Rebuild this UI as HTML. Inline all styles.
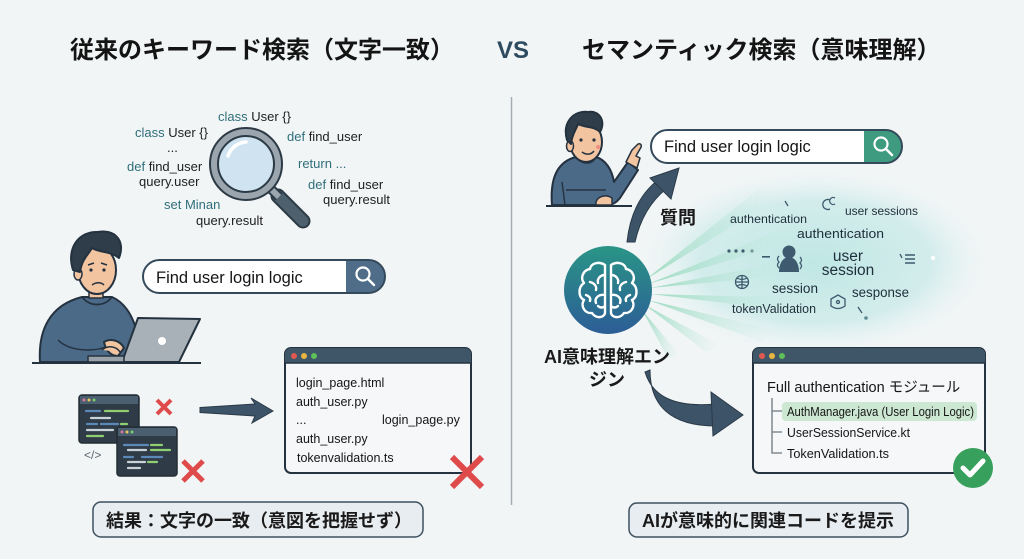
<!DOCTYPE html>
<html><head><meta charset="utf-8">
<style>
html,body{margin:0;padding:0;background:#f2f5f6;}
svg{display:block;}
text{font-family:"Liberation Sans","Noto Sans CJK JP",sans-serif;}
</style></head><body>
<svg width="1024" height="559" viewBox="0 0 1024 559" xmlns="http://www.w3.org/2000/svg">
<defs>
 <radialGradient id="cloud" cx="0.5" cy="0.5" r="0.5">
  <stop offset="0" stop-color="#bfe7e4" stop-opacity="1"/>
  <stop offset="0.65" stop-color="#cdebea" stop-opacity="0.85"/>
  <stop offset="1" stop-color="#e8f4f3" stop-opacity="0"/>
 </radialGradient>
 <linearGradient id="ray" x1="0" y1="0" x2="1" y2="0">
  <stop offset="0" stop-color="#93d8ba" stop-opacity="1"/>
  <stop offset="1" stop-color="#c9ece4" stop-opacity="0"/>
 </linearGradient>
 <linearGradient id="brain" x1="0" y1="0" x2="0" y2="1">
  <stop offset="0" stop-color="#2a9586"/>
  <stop offset="1" stop-color="#2c5d96"/>
 </linearGradient>
</defs>

<rect width="1024" height="559" fill="#f2f5f6"/>

<!-- Titles -->
<text x="70" y="58" font-size="24" font-weight="bold" fill="#141414">従来のキーワード検索（文字一致）</text>
<text x="497" y="58" font-size="24" font-weight="bold" fill="#2d4a5f">VS</text>
<text x="582" y="58" font-size="24" font-weight="bold" fill="#141414">セマンティック検索（意味理解）</text>

<!-- divider -->
<line x1="511.5" y1="97" x2="511.5" y2="505" stroke="#a5adb3" stroke-width="1.5"/>

<!-- ============ LEFT ============ -->
<g font-size="13" fill="#1e1e1e">
 <text x="218" y="121"><tspan fill="#2f6f7a">class</tspan> User {}</text>
 <text x="135" y="137"><tspan fill="#2f6f7a">class</tspan> User {}</text>
 <text x="167" y="152">...</text>
 <text x="127" y="171"><tspan fill="#2f6f7a">def</tspan> find_user</text>
 <text x="139" y="186">query.user</text>
 <text x="164" y="209" fill="#2f6f7a">set Minan</text>
 <text x="196" y="225">query.result</text>
 <text x="287" y="141"><tspan fill="#2f6f7a">def</tspan> find_user</text>
 <text x="298" y="168" fill="#2f6f7a">return ...</text>
 <text x="308" y="189"><tspan fill="#2f6f7a">def</tspan> find_user</text>
 <text x="323" y="204">query.result</text>
</g>

<!-- magnifier -->
<g>
 <line x1="278" y1="196" x2="303" y2="221" stroke="#2c3a46" stroke-width="15" stroke-linecap="round"/>
 <line x1="278" y1="196" x2="303" y2="221" stroke="#4d606e" stroke-width="11" stroke-linecap="round"/>
 <line x1="268" y1="186" x2="279" y2="197" stroke="#2c3a46" stroke-width="10"/>
 <line x1="268" y1="186" x2="279" y2="197" stroke="#9aa5ae" stroke-width="6"/>
 <circle cx="246" cy="164" r="36" fill="#9aa5ae" stroke="#2c3a46" stroke-width="2"/>
 <circle cx="246" cy="164" r="28" fill="#cfe4f0" stroke="#2c3a46" stroke-width="2"/>
 <path d="M228,156 A20,20 0 0 1 246,142" stroke="#ffffff" stroke-width="3.5" fill="none" stroke-linecap="round"/>
</g>

<!-- left person -->
<g stroke="#243240" stroke-width="2" stroke-linejoin="round">
 <path d="M40,362 C38,330 50,305 82,297 L112,297 C128,304 136,322 140,345 L132,362 Z" fill="#4b6a88"/>
 <path d="M82,297 C90,307 104,307 112,297" fill="none" stroke-width="1.8"/>
 <path d="M58,340 C70,352 95,352 108,346" fill="none" stroke-width="1.5"/>
 <path d="M104,342 C110,338 120,340 124,348 L118,356 C112,356 106,352 104,342 Z" fill="#f2c4a0"/>
 <rect x="89" y="287" width="14" height="11" fill="#f2c4a0" stroke-width="1.5"/>
 <ellipse cx="97" cy="270" rx="19" ry="24" fill="#f2c4a0"/>
 <ellipse cx="78" cy="274" rx="4" ry="6" fill="#f2c4a0" stroke-width="1.5"/>
 <path d="M73,270 C66,248 79,231 98,232 C114,229 126,240 119,258 C111,251 100,253 92,248 C88,255 82,259 80,272 Z" fill="#2f3d4a"/>
 <path d="M88,265 L94,263 M101,263 L107,265" stroke-width="1.5"/>
 <circle cx="91" cy="270" r="1.6" fill="#243240" stroke="none"/>
 <circle cx="104" cy="270" r="1.6" fill="#243240" stroke="none"/>
 <path d="M92,285 C96,282 101,282 104,285" fill="none" stroke-width="1.5"/>
 <polygon points="138,318 200,319 179,362 122,362" fill="#a9b1b8"/>
 <circle cx="162" cy="341" r="4" fill="#ffffff" stroke="none"/>
 <rect x="88" y="356" width="36" height="6" fill="#9aa2aa" stroke-width="1.5"/>
 <path d="M102,350 C108,345 116,346 120,352" fill="#f2c4a0" stroke-width="1.5"/>
</g>
<line x1="32" y1="363" x2="201" y2="363" stroke="#243240" stroke-width="2"/>

<!-- left search bar -->
<rect x="143" y="260" width="242" height="33" rx="16.5" fill="#ffffff"/>
<path d="M346,260 H368.5 A16.5,16.5 0 0 1 368.5,293 H346 Z" fill="#4f6d89"/>
<rect x="143" y="260" width="242" height="33" rx="16.5" fill="none" stroke="#34495a" stroke-width="2"/>
<text x="156" y="283" font-size="16.5" fill="#151515">Find user login logic</text>
<circle cx="363" cy="274" r="6.5" fill="none" stroke="#ffffff" stroke-width="2.2"/>
<line x1="368" y1="279" x2="374" y2="285" stroke="#ffffff" stroke-width="2.4" stroke-linecap="round"/>

<!-- small code windows -->
<g>
 <rect x="79" y="395" width="60" height="48" rx="3" fill="#2f3b46" stroke="#222c35" stroke-width="1.5"/>
 <rect x="80" y="396" width="58" height="8" fill="#4a5f70"/>
 <circle cx="84" cy="400" r="1.5" fill="#d9789a"/><circle cx="89" cy="400" r="1.5" fill="#e8c85a"/><circle cx="94" cy="400" r="1.5" fill="#7ccf6a"/>
 <g stroke-width="2.2" stroke-linecap="round">
  <line x1="86" y1="411" x2="100" y2="411" stroke="#5b89b8"/><line x1="105" y1="411" x2="128" y2="411" stroke="#8fcf72"/>
  <line x1="91" y1="418" x2="110" y2="418" stroke="#c9d2d8"/>
  <line x1="87" y1="424" x2="97" y2="424" stroke="#5b89b8"/><line x1="101" y1="424" x2="118" y2="424" stroke="#5b89b8"/><line x1="121" y1="424" x2="127" y2="424" stroke="#8fcf72"/>
  <line x1="87" y1="430" x2="113" y2="430" stroke="#c9d2d8"/>
  <line x1="87" y1="436" x2="103" y2="436" stroke="#8fcf72"/>
 </g>
 <rect x="117" y="427" width="60" height="49" rx="3" fill="#2f3b46" stroke="#222c35" stroke-width="1.5"/>
 <rect x="118" y="428" width="58" height="8" fill="#4a5f70"/>
 <circle cx="122" cy="432" r="1.5" fill="#d9789a"/><circle cx="127" cy="432" r="1.5" fill="#e8c85a"/><circle cx="132" cy="432" r="1.5" fill="#7ccf6a"/>
 <g stroke-width="2.2" stroke-linecap="round">
  <line x1="124" y1="445" x2="148" y2="445" stroke="#5b89b8"/><line x1="151" y1="445" x2="162" y2="445" stroke="#8fcf72"/>
  <line x1="128" y1="450" x2="146" y2="450" stroke="#c9d2d8"/><line x1="151" y1="450" x2="170" y2="450" stroke="#8fcf72"/>
  <line x1="124" y1="457" x2="133" y2="457" stroke="#5b89b8"/><line x1="142" y1="457" x2="162" y2="457" stroke="#5b89b8"/>
  <line x1="128" y1="462" x2="145" y2="462" stroke="#c9d2d8"/><line x1="148" y1="462" x2="157" y2="462" stroke="#8fcf72"/>
  <line x1="128" y1="468" x2="140" y2="468" stroke="#c9d2d8"/>
 </g>
 <text x="84" y="459" font-size="12" fill="#5a6670">&lt;/&gt;</text>
</g>
<g stroke="#df4b4b" stroke-linecap="butt">
 <path d="M157,400 L171,414 M171,400 L157,414" stroke-width="4"/>
 <path d="M183,461 L203,481 M203,461 L183,481" stroke-width="5"/>
</g>

<!-- left arrow -->
<polygon points="200,407.5 255,404 251,398 273,411 252,423 255,416 200,412.5" fill="#3d5468" stroke="#2a3a48" stroke-width="1"/>

<!-- left result window -->
<rect x="285" y="348" width="186" height="125" rx="6" fill="#f5f7f9" stroke="#253341" stroke-width="2"/>
<path d="M285,354 a6,6 0 0 1 6,-6 H465 a6,6 0 0 1 6,6 V363 H285 Z" fill="#3f5668"/>
<line x1="285" y1="363" x2="471" y2="363" stroke="#253341" stroke-width="1.5"/>
<circle cx="294" cy="356" r="3" fill="#e0584f"/><circle cx="304" cy="356" r="3" fill="#e8b640"/><circle cx="314" cy="356" r="3" fill="#5cbf5a"/>
<g font-size="12.5" fill="#151515">
 <text x="296" y="387">login_page.html</text>
 <text x="296" y="406">auth_user.py</text>
 <text x="296" y="424">...</text>
 <text x="382" y="424">login_page.py</text>
 <text x="296" y="443">auth_user.py</text>
 <text x="297" y="462">tokenvalidation.ts</text>
</g>
<path d="M452,457 L482,487 M482,457 L452,487" stroke="#df4b4b" stroke-width="6"/>

<!-- left result box -->
<rect x="93" y="502" width="330" height="35" rx="8" fill="#e8edf1" stroke="#3d5060" stroke-width="1.5"/>
<text x="106" y="527" font-size="18" font-weight="bold" fill="#1a1a1a">結果：文字の一致（意図を把握せず）</text>

<!-- ============ RIGHT ============ -->
<ellipse cx="815" cy="262" rx="178" ry="94" fill="url(#cloud)"/>
<g opacity="0.9">
 <polygon points="645,280 760,188 778,198" fill="url(#ray)"/>
 <polygon points="648,284 800,222 806,238" fill="url(#ray)"/>
 <polygon points="650,288 792,260 792,275" fill="url(#ray)"/>
 <polygon points="650,294 805,298 800,312" fill="url(#ray)"/>
 <polygon points="648,300 775,330 762,342" fill="url(#ray)"/>
 <polygon points="645,305 722,346 706,352" fill="url(#ray)"/>
 <polygon points="642,310 680,355 668,358" fill="url(#ray)"/>
</g>

<!-- right person -->
<g stroke="#243240" stroke-width="2" stroke-linejoin="round">
 <path d="M552,205 C550,180 556,162 576,157 L596,157 C606,160 612,170 614,182 L628,162 L638,170 L620,198 C616,203 612,205 608,205 Z" fill="#4b6a88"/>
 <path d="M576,157 C582,165 592,165 596,157" fill="none" stroke-width="1.6"/>
 <path d="M562,182 L565,205 M566,190 L606,190" fill="none" stroke-width="1.4"/>
 <path d="M626,162 L632,150 L637,145 C640,142 643,145 640,149 L636,156 L640,158 L637,168 Z" fill="#f2c4a0" stroke-width="1.5"/>
 <path d="M596,202 C598,196 606,194 612,198 L612,205 L596,205 Z" fill="#f2c4a0" stroke-width="1.5"/>
 <rect x="579" y="150" width="12" height="9" fill="#f2c4a0" stroke-width="1.5"/>
 <ellipse cx="586" cy="142" rx="16" ry="20" fill="#f2c4a0"/>
 <ellipse cx="570" cy="146" rx="3.5" ry="5.5" fill="#f2c4a0" stroke-width="1.5"/>
 <path d="M567,140 C562,122 574,110 588,112 C600,110 606,122 600,132 C594,126 586,128 578,124 C576,130 572,134 571,144 Z" fill="#2f3d4a"/>
 <circle cx="581" cy="140" r="1.6" fill="#243240" stroke="none"/>
 <circle cx="594" cy="140" r="1.6" fill="#243240" stroke="none"/>
 <path d="M582,152 C586,155 591,155 594,151" fill="none" stroke-width="1.5"/>
 <circle cx="598" cy="147" r="2" fill="#ef8c80" stroke="none"/>
</g>
<line x1="546" y1="206" x2="632" y2="206" stroke="#243240" stroke-width="2"/>

<!-- right search bar -->
<rect x="651" y="130" width="251" height="33" rx="16.5" fill="#ffffff"/>
<path d="M864,130 H885.5 A16.5,16.5 0 0 1 885.5,163 H864 Z" fill="#3f9b7f"/>
<rect x="651" y="130" width="251" height="33" rx="16.5" fill="none" stroke="#34495a" stroke-width="2"/>
<text x="664" y="152" font-size="16.5" fill="#151515">Find user login logic</text>
<circle cx="881" cy="144" r="6.5" fill="none" stroke="#ffffff" stroke-width="2.2"/>
<line x1="886" y1="149" x2="892" y2="155" stroke="#ffffff" stroke-width="2.4" stroke-linecap="round"/>

<!-- up arrow (質問) -->
<path d="M627,242 C630,214 640,194 658,180 L666,189 C650,202 640,220 635,242 Z" fill="#3d5468" stroke="#2a3a48" stroke-width="1"/>
<polygon points="679,168 650,178 671,199" fill="#3d5468" stroke="#2a3a48" stroke-width="1"/>
<text x="660" y="224" font-size="18" font-weight="bold" fill="#1a1a1a">質問</text>

<!-- semantic words -->
<g fill="#1f2e3b">
 <text x="730" y="223" font-size="12" textLength="77" lengthAdjust="spacingAndGlyphs">authentication</text>
 <text x="845" y="215" font-size="12" textLength="73" lengthAdjust="spacingAndGlyphs">user sessions</text>
 <text x="797" y="238" font-size="13" textLength="87" lengthAdjust="spacingAndGlyphs">authentication</text>
 <text x="848" y="261" font-size="15.5" text-anchor="middle">user</text>
 <text x="848" y="275" font-size="15.5" text-anchor="middle">session</text>
 <text x="772" y="293" font-size="13.5" textLength="46" lengthAdjust="spacingAndGlyphs">session</text>
 <text x="852" y="297" font-size="13.5" textLength="57" lengthAdjust="spacingAndGlyphs">sesponse</text>
 <text x="732" y="313" font-size="12.5" textLength="84" lengthAdjust="spacingAndGlyphs">tokenValidation</text>
</g>
<g fill="#3d5a6e" stroke="none">
 <circle cx="729" cy="251" r="1.6"/><circle cx="736" cy="251" r="1.6"/><circle cx="743" cy="251" r="1.6"/><circle cx="752" cy="251" r="1.6" opacity="0.6"/>
 <rect x="762" y="256" width="8" height="1.6"/>
 <circle cx="789" cy="252" r="6.5"/>
 <path d="M779,272 C779,262 784,257 789,257 C794,257 799,262 799,272 Z"/>
 <circle cx="933" cy="258" r="2" fill="#ffffff"/>
 <circle cx="866" cy="318" r="1.8" fill="#5b8a94"/>
</g>
<g stroke="#3d5a6e" fill="none" stroke-width="1.3">
 <path d="M779,256 q-3,3 0,6 q-3,3 0,6"/>
 <path d="M800,257 q3,3 0,6 q3,3 0,6"/>
 <path d="M785,201 L788,206"/>
 <path d="M830,200 a5,5 0 1 0 0,9"/>
 <path d="M835,198 a3.5,3.5 0 1 0 0,6"/>
 <path d="M900,254 L902,258"/>
 <path d="M905,255 h10 M905,259 h10 M905,263 h10" stroke-width="1.5"/>
 <circle cx="742" cy="282" r="6.5"/>
 <path d="M735.5,282 h13 M742,275.5 v13 M737,278 q5,3 10,0 M737,286 q5,-3 10,0"/>
 <path d="M831,299 l7,-4 l7,4 v7 q-7,5 -14,0 Z"/>
 <circle cx="838" cy="302" r="1.5"/>
 <path d="M858,307 L862,313"/>
</g>

<!-- brain -->
<circle cx="608" cy="290" r="44" fill="url(#brain)"/>
<g stroke="#ffffff" stroke-width="2.4" fill="none" stroke-linecap="round" stroke-linejoin="round">
 <path d="M605,265 C599,261 591,263 590,269 C583,270 580,278 584,283 C578,287 578,297 584,300 C580,306 585,314 592,313 C596,319 604,318 605,313 Z"/>
 <path d="M611,265 C617,261 625,263 626,269 C633,270 636,278 632,283 C638,287 638,297 632,300 C636,306 631,314 624,313 C620,319 612,318 611,313 Z"/>
 <path d="M605,275 C600,275 597,279 598,283 M590,282 C594,283 597,286 596,290 M605,295 C599,294 594,298 596,303 M586,295 C589,296 591,298 590,301 M598,306 C600,308 603,308 605,306"/>
 <path d="M611,275 C616,275 619,279 618,283 M626,282 C622,283 619,286 620,290 M611,295 C617,294 622,298 620,303 M630,295 C627,296 625,298 626,301 M618,306 C616,308 613,308 611,306"/>
</g>
<text x="607" y="363" font-size="18" font-weight="bold" fill="#1a1a1a" text-anchor="middle">AI意味理解エン</text>
<text x="607" y="386" font-size="18" font-weight="bold" fill="#1a1a1a" text-anchor="middle">ジン</text>

<!-- down arrow -->
<path d="M645,372 C652,395 672,408 716,404 L716,426 C670,426 650,405 650,370 Z" fill="#3d5468" stroke="#2a3a48" stroke-width="1"/>
<polygon points="711,392 743,415 713,436" fill="#3d5468" stroke="#2a3a48" stroke-width="1"/>

<!-- right result window -->
<rect x="753" y="348" width="232" height="125" rx="6" fill="#f5f7f9" stroke="#253341" stroke-width="2"/>
<path d="M753,354 a6,6 0 0 1 6,-6 H979 a6,6 0 0 1 6,6 V363 H753 Z" fill="#3f5668"/>
<line x1="753" y1="363" x2="985" y2="363" stroke="#253341" stroke-width="1.5"/>
<circle cx="762" cy="356" r="3" fill="#e0584f"/><circle cx="772" cy="356" r="3" fill="#e8b640"/><circle cx="782" cy="356" r="3" fill="#5cbf5a"/>
<text x="767" y="392" font-size="14.5" fill="#151515">Full authentication モジュール</text>
<path d="M772,398 V453 H782 M772,411 H782 M772,432 H782" stroke="#6b7780" stroke-width="1.3" fill="none"/>
<rect x="782" y="402" width="195" height="19" rx="4" fill="#cde8d2"/>
<g font-size="13" fill="#151515">
 <text x="787" y="416" textLength="187" lengthAdjust="spacingAndGlyphs">AuthManager.java (User Login Logic)</text>
 <text x="787" y="437" textLength="123" lengthAdjust="spacingAndGlyphs">UserSessionService.kt</text>
 <text x="787" y="458" textLength="102" lengthAdjust="spacingAndGlyphs">TokenValidation.ts</text>
</g>
<circle cx="973" cy="468" r="20" fill="#37a05c"/>
<path d="M963,468 L970,475 L983,461" stroke="#ffffff" stroke-width="5" fill="none" stroke-linecap="round" stroke-linejoin="round"/>

<!-- right result box -->
<rect x="629" y="503" width="279" height="34" rx="8" fill="#e8edf1" stroke="#3d5060" stroke-width="1.5"/>
<text x="642" y="527" font-size="18" font-weight="bold" fill="#1a1a1a">AIが意味的に関連コードを提示</text>
</svg>
</body></html>
